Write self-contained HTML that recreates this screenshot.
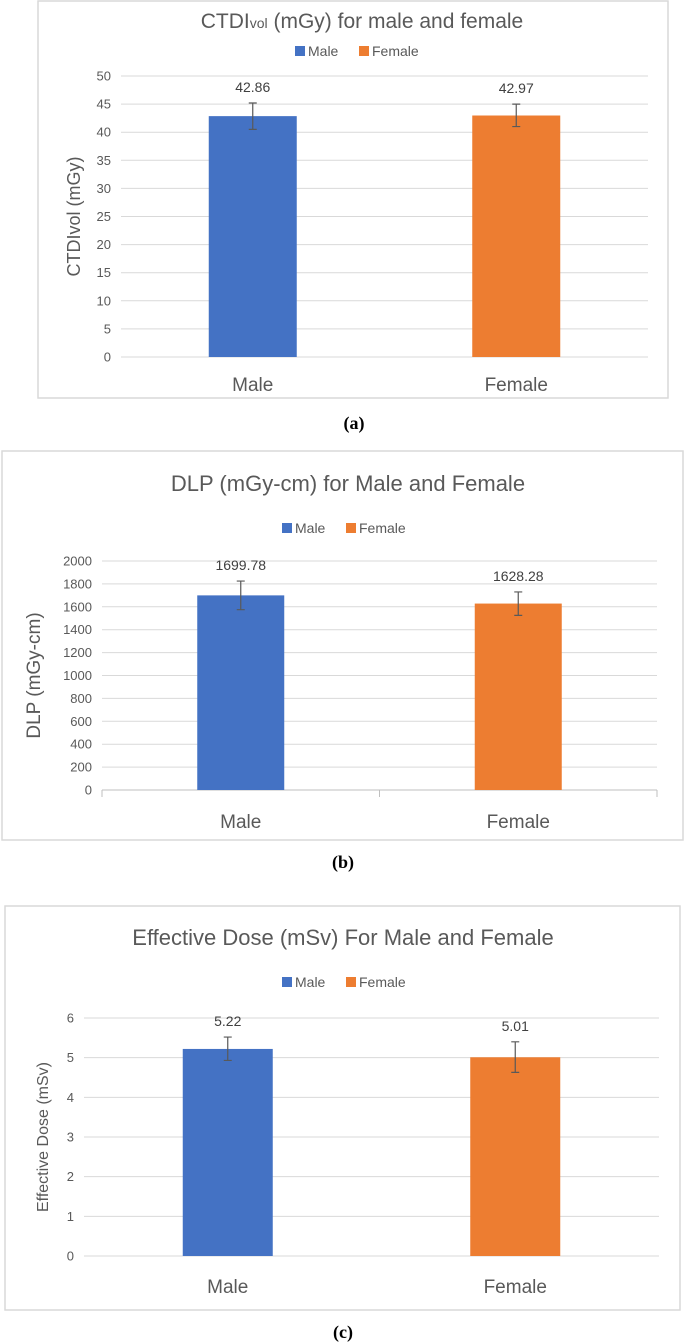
<!DOCTYPE html>
<html><head><meta charset="utf-8">
<style>
html,body{margin:0;padding:0;background:#fff;}
body{width:685px;height:1343px;position:relative;overflow:hidden;font-family:"Liberation Sans",sans-serif;}
svg{position:absolute;left:0;top:0;}
</style></head>
<body>
<svg id="fig" width="685" height="1343" viewBox="0 0 685 1343"></svg>
<script>
const categories = ["Male", "Female"];
const colors = ["#4472C4", "#ED7D31"];
// chart a
const aValues = [42.86, 42.97];
const aErrLow = [40.5, 41.0];
const aErrHigh = [45.2, 45.0];
const aTicks = [0, 5, 10, 15, 20, 25, 30, 35, 40, 45, 50];
// chart b
const bValues = [1699.78, 1628.28];
const bErrLow = [1575, 1525];
const bErrHigh = [1825, 1730];
const bTicks = [0, 200, 400, 600, 800, 1000, 1200, 1400, 1600, 1800, 2000];
// chart c
const cValues = [5.22, 5.01];
const cErrLow = [4.93, 4.63];
const cErrHigh = [5.52, 5.4];
const cTicks = [0, 1, 2, 3, 4, 5, 6];

const NS = "http://www.w3.org/2000/svg";
const svg = document.getElementById("fig");
function el(tag, attrs, parent, text) {
  const e = document.createElementNS(NS, tag);
  for (const k in attrs) e.setAttribute(k, attrs[k]);
  if (text !== undefined) e.textContent = text;
  (parent || svg).appendChild(e);
  return e;
}

function chart(cfg) {
  const g = el("g", {});
  
  
  const fr = el("rect", {x: cfg.fx, y: cfg.fy, width: cfg.fw, height: cfg.fh, fill: "#fff", stroke: "#d9d9d9", "stroke-width": 1.5}, g);
  
  
  const tMax = cfg.ticks[cfg.ticks.length - 1];
  const y = v => cfg.y0 - (v / tMax) * (cfg.y0 - cfg.yTop);
  const pw = cfg.x1 - cfg.x0;
  const x = i => cfg.x0 + pw * (i + 0.5) / categories.length;
  const t = el("text", {x: cfg.titleX, y: cfg.titleY, "text-anchor": "middle", "font-size": cfg.titleSize, fill: "#595959"}, g);
  t.innerHTML = cfg.title;
  
  
  let lx = cfg.legX;
  categories.forEach((c, i) => {
    const s = el("rect", {x: lx, y: cfg.legY - 10, width: 10, height: 10, fill: colors[i]}, g);
    
    
    const lt = el("text", {x: lx + 13, y: cfg.legY, "font-size": 14, fill: "#595959"}, g, c);
    
    
    lx += 64;
  });
  cfg.ticks.forEach(v => {
    const gl = el("line", {x1: cfg.x0, x2: cfg.x1, y1: y(v), y2: y(v), stroke: v === 0 && cfg.axisLine ? "#bfbfbf" : "#d9d9d9", "stroke-width": 1}, g);
    
    
    const tl = el("text", {x: cfg.x0 - 10, y: y(v) + 4.5, "text-anchor": "end", "font-size": 13, fill: "#595959"}, g, String(v));
    
    
  });
  if (cfg.axisLine) {
    [0, 1, 2].forEach(k => {
      const xx = cfg.x0 + pw * k / 2;
      const tk = el("line", {x1: xx, x2: xx, y1: cfg.y0, y2: cfg.y0 + 7, stroke: "#bfbfbf"}, g);
      
      
    });
  }
  const yt = el("text", {x: 0, y: 0, transform: `translate(${cfg.ytX},${(cfg.y0 + cfg.yTop) / 2}) rotate(-90)`, "text-anchor": "middle", "font-size": cfg.ytSize, fill: "#595959"}, g, cfg.yTitle);
  
  
  categories.forEach((c, i) => {
    const cx = x(i);
    const b = el("rect", {x: cx - cfg.bw / 2, y: y(cfg.values[i]), width: cfg.bw, height: cfg.y0 - y(cfg.values[i]), fill: colors[i]}, g);
    
    
    const e = el("path", {d: `M${cx} ${y(cfg.errHigh[i])}V${y(cfg.errLow[i])}M${cx - 4} ${y(cfg.errHigh[i])}H${cx + 4}M${cx - 4} ${y(cfg.errLow[i])}H${cx + 4}`, stroke: "#595959", "stroke-width": 1.2, fill: "none"}, g);
    
    
    const vl = el("text", {x: cx, y: y(cfg.errHigh[i]) - 11, "text-anchor": "middle", "font-size": 14, fill: "#404040"}, g, cfg.labels[i]);
    
    
    const cl = el("text", {x: cx, y: cfg.catY, "text-anchor": "middle", "font-size": 19, fill: "#595959"}, g, c);
    
    
  });
  const cap = el("text", {x: cfg.capX, y: cfg.capY, "text-anchor": "middle", "font-size": 18, "font-weight": "bold", "font-family": "Liberation Serif, serif", fill: "#000"}, g, cfg.caption);
  
  
}

chart({name: "chart-ctdivol", fx: 38, fy: 1, fw: 630, fh: 397, title: 'CTDI<tspan font-size="14">vol</tspan> (mGy) for male and female', titleX: 362, titleY: 28, titleSize: 21,
  legX: 295, legY: 56, x0: 121, x1: 648, yTop: 76, y0: 357, ticks: aTicks, values: aValues, errLow: aErrLow, errHigh: aErrHigh,
  labels: ["42.86", "42.97"], bw: 88, yTitle: "CTDIvol (mGy)", ytX: 80, ytSize: 18, catY: 391, axisLine: false, caption: "(a)", capX: 354, capY: 429});
chart({name: "chart-dlp", fx: 2, fy: 451, fw: 681, fh: 389, title: "DLP (mGy-cm) for Male and Female", titleX: 348, titleY: 491, titleSize: 22,
  legX: 282, legY: 533, x0: 102, x1: 657, yTop: 561, y0: 790, ticks: bTicks, values: bValues, errLow: bErrLow, errHigh: bErrHigh,
  labels: ["1699.78", "1628.28"], bw: 87, yTitle: "DLP (mGy-cm)", ytX: 40, ytSize: 19, catY: 828, axisLine: true, caption: "(b)", capX: 343, capY: 868});
chart({name: "chart-effective-dose", fx: 5, fy: 906, fw: 675, fh: 404, title: "Effective Dose (mSv) For Male and Female", titleX: 343, titleY: 945, titleSize: 22,
  legX: 282, legY: 987, x0: 84, x1: 659, yTop: 1018, y0: 1256, ticks: cTicks, values: cValues, errLow: cErrLow, errHigh: cErrHigh,
  labels: ["5.22", "5.01"], bw: 90, yTitle: "Effective Dose (mSv)", ytX: 48, ytSize: 16, catY: 1293, axisLine: false, caption: "(c)", capX: 343, capY: 1338});
</script>
</body></html>
